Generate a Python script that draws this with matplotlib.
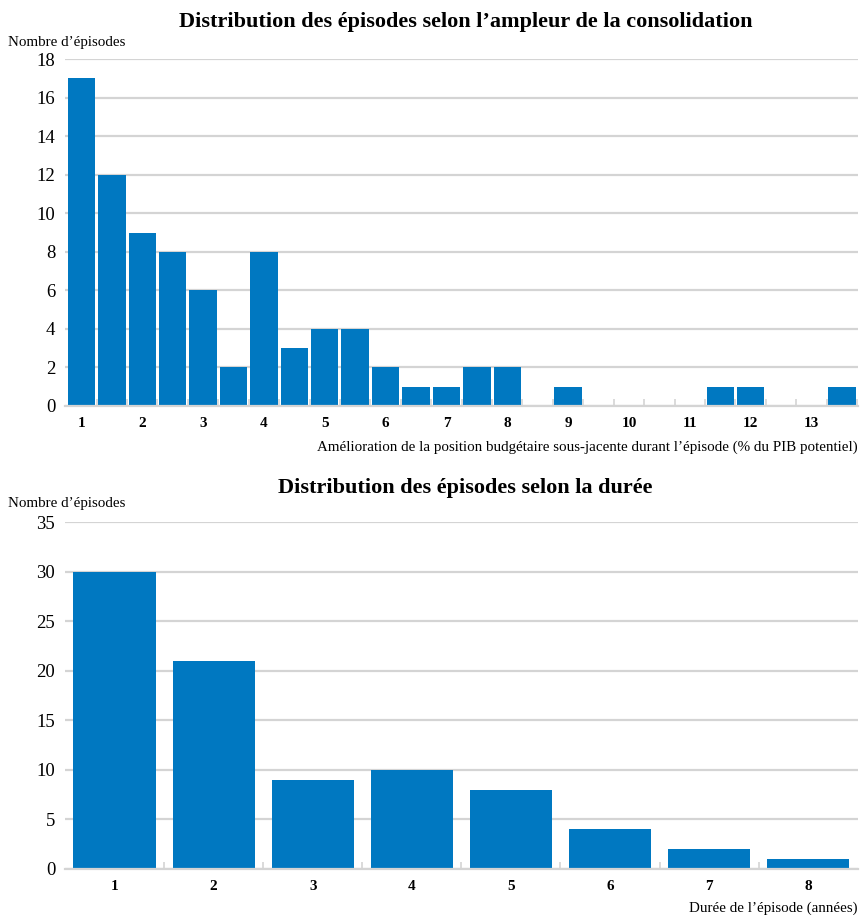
import numpy as np
import matplotlib
matplotlib.use("Agg")
import matplotlib.pyplot as plt

plt.rcParams["font.family"] = ["Liberation Serif", "DejaVu Serif"]

BLUE = "#0078c1"
GRID = "#d4d4d4"

# top panel: size of consolidation (bins of 0.5 pt of potential GDP)
ampleur_centres = [1, 1.5, 2, 2.5, 3, 3.5, 4, 4.5, 5, 5.5, 6, 6.5, 7, 7.5, 8, 8.5,
                   9, 9.5, 10, 10.5, 11, 11.5, 12, 12.5, 13, 13.5]
ampleur_counts = [17, 12, 9, 8, 6, 2, 8, 3, 4, 4, 2, 1, 1, 2, 2, 0,
                  1, 0, 0, 0, 0, 1, 1, 0, 0, 1]
ampleur_ticks = list(range(1, 14))

# bottom panel: duration in years
duree_labels = ["1", "2", "3", "4", "5", "6", "7", "8"]
duree_counts = [30, 21, 9, 10, 8, 4, 2, 1]


def style_axes(ax, ymax, ystep):
    ax.set_ylim(0, ymax)
    ax.set_yticks(np.arange(0, ymax + 0.1, ystep))
    ax.yaxis.grid(True, color=GRID, linewidth=1.6)
    ax.set_axisbelow(True)
    for s in ["top", "right", "left"]:
        ax.spines[s].set_visible(False)
    ax.spines["bottom"].set_color(GRID)
    ax.spines["bottom"].set_linewidth(1.6)
    ax.tick_params(axis="y", length=0, labelsize=13.5, pad=7)
    ax.tick_params(axis="x", which="major", length=0, labelsize=11, pad=8)
    ax.tick_params(axis="x", which="minor", direction="in", length=5,
                   color=GRID, width=1.2)


fig = plt.figure(figsize=(8.62, 9.15), dpi=100)

# ---- top chart
ax1 = fig.add_axes([0.0754, 0.5563, 0.9196, 0.3792])
ax1.bar(ampleur_centres, ampleur_counts, width=0.45, color=BLUE)
ax1.set_xlim(0.73, 13.76)
ax1.set_xticks(ampleur_ticks)
ax1.set_xticks(np.arange(1.25, 13.76, 0.5), minor=True)
style_axes(ax1, 18, 2)
ax1.set_xticklabels([str(t) for t in ampleur_ticks], fontweight="bold")
fig.text(0.54, 0.976, "Distribution des épisodes selon l\u2019ampleur de la consolidation",
         ha="center", va="center", fontsize=16, fontweight="bold")
fig.text(0.009, 0.954, "Nombre d\u2019épisodes", ha="left", va="center", fontsize=10.8)
fig.text(0.995, 0.511,
         "Amélioration de la position budgétaire sous-jacente durant l\u2019épisode (% du PIB potentiel)",
         ha="right", va="center", fontsize=10.8)

# ---- bottom chart
ax2 = fig.add_axes([0.0754, 0.0503, 0.9196, 0.3792])
xpos = np.arange(len(duree_labels))
ax2.bar(xpos, duree_counts, width=0.83, color=BLUE)
ax2.set_xlim(-0.5, len(duree_labels) - 0.5)
ax2.set_xticks(xpos)
ax2.set_xticks(np.arange(0.5, len(duree_labels) - 1, 1.0), minor=True)
style_axes(ax2, 35, 5)
ax2.set_xticklabels(duree_labels, fontweight="bold")
fig.text(0.54, 0.467, "Distribution des épisodes selon la durée",
         ha="center", va="center", fontsize=16, fontweight="bold")
fig.text(0.009, 0.45, "Nombre d\u2019épisodes", ha="left", va="center", fontsize=10.8)
fig.text(0.995, 0.007, "Durée de l\u2019épisode (années)",
         ha="right", va="center", fontsize=10.8)

fig.savefig("out.png", dpi=100)
